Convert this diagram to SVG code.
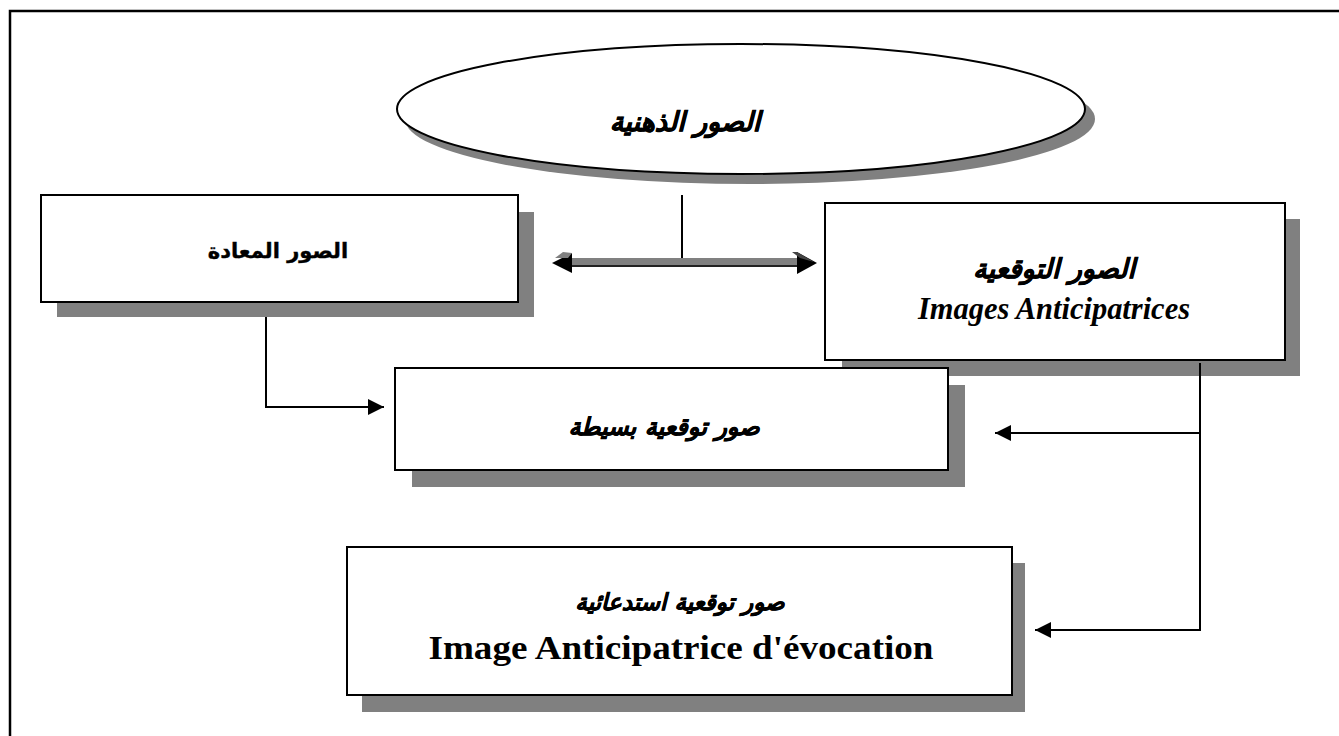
<svg xmlns="http://www.w3.org/2000/svg" width="1339" height="736" viewBox="0 0 1339 736">
<style>
.box{fill:#fff;stroke:#000;stroke-width:2}
.shadow{fill:#808080}
.ar{font-family:"DejaVu Sans",sans-serif;font-weight:bold;fill:#000;text-anchor:middle}
.lat{font-family:"Liberation Serif",serif;font-weight:bold;fill:#000;text-anchor:middle}
.conn{fill:none;stroke:#000;stroke-width:2}
</style>
<defs>
<marker id="ahb" viewBox="0 0 12 12" refX="12" refY="6" markerWidth="18" markerHeight="16" markerUnits="userSpaceOnUse" orient="auto">
<path d="M0,0 L12,6 L0,12 Z" fill="#000"/>
</marker>
</defs>
<rect width="1339" height="736" fill="#fff"/>
<g id="frame">
<path d="M10,736 V11 H1339" fill="none" stroke="#000" stroke-width="2.5"/>
</g>
<g id="node-mental-images">
<ellipse cx="750" cy="119" rx="345" ry="65" class="shadow"/>
<ellipse cx="741" cy="109" rx="344" ry="65" class="box"/>
<text x="685" y="131" class="ar" font-size="27" font-style="italic" stroke="#000" stroke-width="0.6">الصور الذهنية</text>
</g>
<g id="node-repeated">
<rect x="57" y="212" width="477" height="105" class="shadow"/>
<rect x="41" y="195" width="477" height="107" class="box"/>
<text x="278" y="258" class="ar" font-size="21" stroke="#000" stroke-width="0.4">الصور المعادة</text>
</g>
<g id="node-anticipatory">
<rect x="842" y="219" width="458" height="157" class="shadow"/>
<rect x="825" y="203" width="460" height="157" class="box"/>
<text x="1054" y="278" class="ar" font-size="27" font-style="italic" stroke="#000" stroke-width="0.5">الصور التوقعية</text>
<text x="1054" y="319" class="lat" font-size="31" font-style="italic" textLength="272" lengthAdjust="spacingAndGlyphs">Images Anticipatrices</text>
</g>
<g id="node-simple">
<rect x="412" y="385" width="553" height="102" class="shadow"/>
<rect x="395" y="368" width="553" height="102" class="box"/>
<text x="664" y="435" class="ar" font-size="24" font-style="italic" stroke="#000" stroke-width="0.5">صور توقعية بسيطة</text>
</g>
<g id="node-evocation">
<rect x="362" y="563" width="663" height="149" class="shadow"/>
<rect x="347" y="547" width="665" height="148" class="box"/>
<text x="680" y="610" class="ar" font-size="23" font-style="italic" stroke="#000" stroke-width="0.5">صور توقعية استدعائية</text>
<text x="681" y="659" class="lat" font-size="34" textLength="505" lengthAdjust="spacingAndGlyphs">Image Anticipatrice d'évocation</text>
</g>
<g id="connectors">
<line x1="682" y1="195" x2="682" y2="262" class="conn"/>
<rect x="566" y="258" width="234" height="9" fill="#808080"/>
<line x1="566" y1="266" x2="800" y2="266" stroke="#222" stroke-width="2"/>
<polygon points="552,263 572,253 572,273" fill="#000"/>
<polygon points="555,258 563,252 572,253 568,258" fill="#808080"/>
<polygon points="817,263 797,252 797,274" fill="#000"/>
<polygon points="792,252 797,252 814,262 800,258" fill="#444"/>
<polyline points="266,317 266,407 384,407" class="conn" marker-end="url(#ahb)"/>
<polyline points="1200,363 1200,630 1035,630" class="conn" marker-end="url(#ahb)"/>
<polyline points="1200,433 995,433" class="conn" marker-end="url(#ahb)"/>
</g>
</svg>
